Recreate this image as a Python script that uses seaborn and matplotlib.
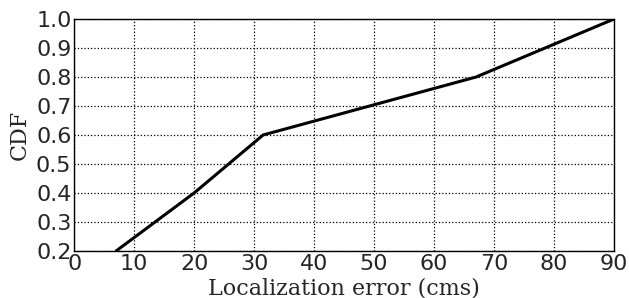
import matplotlib
matplotlib.use("Agg")
import matplotlib.pyplot as plt
import pandas as pd
import seaborn as sns

# CDF of localization error
error_cms = [7, 20, 31.5, 67, 90]
cdf = [0.2, 0.4, 0.6, 0.8, 1.0]
x_ticks = [0, 10, 20, 30, 40, 50, 60, 70, 80, 90]
y_ticks = [0.2, 0.3, 0.4, 0.5, 0.6, 0.7, 0.8, 0.9, 1.0]

df = pd.DataFrame({'error': error_cms, 'cdf': cdf})

sns.set_style("white")
plt.rcParams['font.family'] = ['DejaVu Sans']
plt.rcParams['xtick.direction'] = 'in'
plt.rcParams['ytick.direction'] = 'in'

fig, ax = plt.subplots(figsize=(6.29, 2.98), dpi=100)
sns.lineplot(x='error', y='cdf', data=df, color='black', linewidth=2.2, ax=ax)

ax.set_xlim(0, 90)
ax.set_ylim(0.2, 1.0)
ax.set_xticks(x_ticks)
ax.set_yticks(y_ticks)
ax.tick_params(labelsize=16, length=4, color='black', pad=2)
ax.grid(True, linestyle=':', color='black', linewidth=0.9)
for s in ax.spines.values():
    s.set_color('black')
    s.set_linewidth(1)

ax.set_xlabel('Localization error (cms)', fontsize=16, family='DejaVu Serif', labelpad=3)
ax.set_ylabel('CDF', fontsize=16, family='DejaVu Serif', labelpad=4)

fig.subplots_adjust(left=0.118, right=0.976, top=0.936, bottom=0.158)
fig.savefig('out.png', dpi=100)
